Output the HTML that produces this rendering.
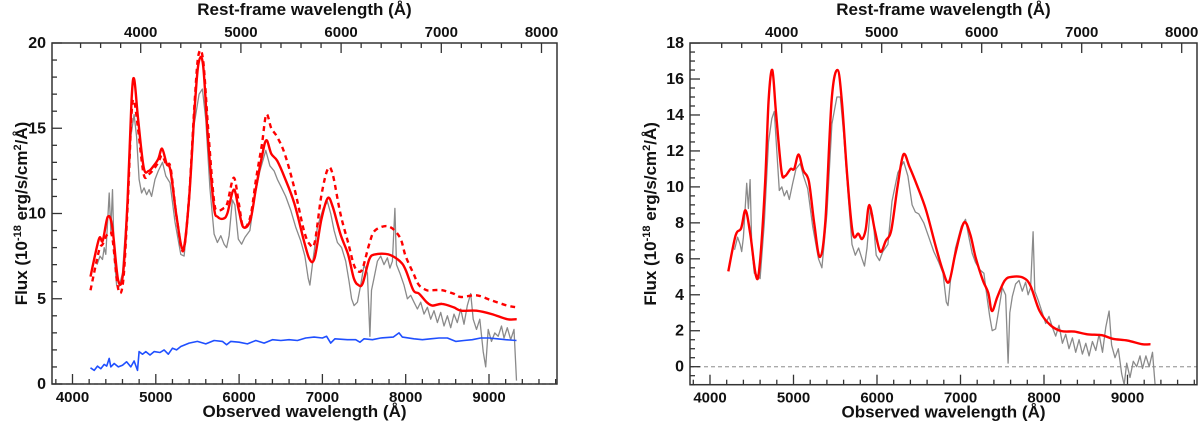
<!DOCTYPE html>
<html><head><meta charset="utf-8"><style>
html,body{margin:0;padding:0;background:#fff;}
svg{display:block;font-family:"Liberation Sans",Arial,sans-serif;font-weight:bold;}
</style></head><body>
<svg id="chart" width="1200" height="424" viewBox="0 0 1200 424" xmlns="http://www.w3.org/2000/svg"></svg>
<script>
// ---------- data (observed wavelength Å, flux 1e-18) ----------
const leftRedWave=[4216,4317,4363,4423,4478,4547,4607,4662,4708,4740,4786,4855,4915,4975,5030,5076,5131,5177,5250,5329,5398,5467,5513,5568,5628,5697,5743,5812,5858,5936,5996,6051,6134,6203,6272,6327,6387,6456,6548,6663,6778,6847,6907,6986,7064,7124,7216,7308,7377,7433,7484,7562,7631,7792,7930,7999,8091,8160,8252,8321,8436,8574,8666,8850,9034,9218,9333];
const leftRedFlux=[6.3,8.5,8.4,9.8,9.2,6.1,6.5,10.8,16.6,17.9,15.6,12.7,12.5,12.8,13.2,13.8,12.9,12.5,9.8,7.9,10.8,16.2,18.8,18.7,14.3,10.4,9.8,9.7,10.0,11.4,10.2,9.2,9.6,11.5,13.3,14.3,13.5,13.1,12.1,10.6,8.4,7.3,7.4,9.6,10.9,10.4,8.8,7.6,6.2,5.8,5.9,7.3,7.6,7.6,7.2,6.7,5.5,5.3,4.8,4.6,4.7,4.5,4.3,4.3,4.1,3.8,3.8];
const leftDashFlux=[5.5,7.8,8.2,8.8,8.6,5.6,6.0,10.4,15.8,16.6,15.0,12.3,12.3,12.6,13.0,13.4,12.8,12.7,9.8,7.8,10.9,16.6,19.3,19.0,15.0,10.8,10.2,10.3,10.6,12.1,10.6,9.2,9.8,12.0,14.0,15.8,15.0,14.5,13.5,11.5,9.0,8.2,8.3,11.0,12.6,12.3,10.0,8.3,7.0,6.6,6.8,8.2,9.0,9.25,8.6,7.5,6.5,5.8,5.5,5.5,5.5,5.3,5.1,5.2,4.9,4.6,4.5];
const leftGrayWave=[4294,4330,4360,4380,4400,4440,4460,4480,4500,4530,4560,4600,4650,4700,4740,4770,4800,4830,4860,4890,4920,4950,4990,5030,5080,5120,5170,5230,5300,5340,5400,5460,5520,5560,5600,5650,5700,5740,5780,5820,5850,5880,5920,5950,5990,6030,6070,6130,6180,6250,6320,6370,6420,6460,6500,6560,6620,6680,6740,6790,6830,6850,6880,6940,7010,7060,7100,7140,7180,7230,7280,7320,7350,7380,7420,7460,7500,7540,7570,7590,7620,7660,7700,7740,7780,7810,7840,7870,7890,7930,7980,8020,8060,8100,8140,8180,8220,8260,8300,8340,8380,8420,8460,8500,8540,8580,8620,8660,8700,8740,8780,8810,8850,8890,8930,8960,8990,9030,9070,9110,9150,9180,9220,9260,9300,9330];
const leftGrayFlux=[7.0,7.5,7.3,8.0,7.6,11.2,9.0,11.4,7.5,5.8,5.7,6.5,10,14.5,15.8,14.5,12,11.2,11.5,11.1,11.4,11.0,12.0,12.5,13.0,12.2,11.8,9.5,7.6,7.5,10.5,15.2,17,17.3,15.5,11.5,8.8,8.3,8.7,8.2,8.0,8.7,10.8,10.5,8.5,8.2,8.6,9.0,10.8,12.5,13.7,12.8,12.5,12.0,11.6,11.0,10.2,9.2,8.4,7.5,6.2,5.8,7.0,9.2,10.3,10.7,10.0,9.0,8.3,8.0,7.2,6.0,5.0,4.6,4.8,5.8,7.0,6.5,2.8,5.5,6.2,7.2,7.5,7.0,7.4,6.8,7.2,10.3,7.0,6.5,5.8,5.0,5.2,4.8,4.4,4.8,4.1,4.5,3.8,4.3,3.6,4.2,3.4,4.0,3.3,4.1,3.6,4.4,3.5,4.6,5.3,3.8,3.2,3.8,1.9,1.0,3.2,2.5,3.0,2.8,3.4,2.7,3.3,2.6,3.2,0.2];
const leftBlueWave=[4216,4260,4300,4340,4380,4410,4440,4460,4500,4550,4600,4650,4700,4740,4780,4800,4840,4880,4930,4980,5050,5100,5150,5200,5250,5300,5400,5500,5600,5700,5800,5850,5900,6000,6100,6200,6300,6400,6500,6600,6700,6800,6900,7000,7050,7100,7150,7300,7400,7450,7500,7600,7700,7850,7920,7960,8100,8200,8300,8400,8500,8600,8700,8800,8900,9000,9100,9200,9330];
const leftBlueFlux=[0.95,0.8,1.05,0.9,1.15,1.05,1.5,1.0,1.2,1.0,1.1,1.3,1.0,1.35,0.8,1.9,1.75,1.9,1.7,1.9,1.85,2.0,1.75,2.1,2.0,2.2,2.4,2.5,2.35,2.55,2.5,2.3,2.5,2.45,2.35,2.55,2.4,2.6,2.55,2.6,2.55,2.7,2.75,2.7,2.8,2.4,2.65,2.6,2.6,2.45,2.65,2.6,2.7,2.75,3.0,2.75,2.65,2.6,2.65,2.7,2.7,2.5,2.55,2.6,2.7,2.7,2.65,2.6,2.55];
const rightRedWave=[4219,4307,4373,4425,4482,4548,4592,4658,4702,4746,4789,4855,4899,4965,5008,5061,5118,5184,5250,5316,5382,5456,5526,5579,5645,5711,5776,5820,5864,5908,5974,6040,6105,6171,6246,6316,6390,6478,6588,6697,6785,6860,6939,7039,7114,7180,7268,7333,7377,7443,7531,7618,7750,7838,7947,8079,8211,8364,8518,8693,8825,9000,9175,9276];
const rightRedFlux=[5.3,7.3,7.7,8.7,7.4,5.1,5.5,10,14.8,16.5,14.2,10.9,10.6,11.0,11.0,11.8,10.9,10.3,7.9,6.1,8.1,14.8,16.5,14.8,10.5,7.4,7.4,7.1,7.6,9.0,7.6,6.4,7.0,7.6,10,11.8,11.1,10.1,8.7,6.8,5.4,4.7,6.3,8.0,7.4,6.1,4.8,4.1,3.1,3.9,4.8,5.0,4.95,4.5,3.1,2.3,1.98,1.95,1.8,1.75,1.55,1.45,1.25,1.25];
const rightGrayWave=leftGrayWave;
const rightGrayFlux=[6.5,7.2,6.8,6.4,7.2,10.2,8.8,10.4,6.6,5.2,5.1,4.9,8,12.5,13.8,14.2,12.0,9.8,10.0,9.5,9.8,9.3,10.2,11.0,11.3,10.6,9.9,7.8,6.0,5.5,8.5,13.5,15.0,15.0,13.0,9.8,6.8,6.2,6.6,6.0,5.6,6.6,8.8,8.4,6.2,5.9,6.4,6.8,9.2,10.8,11.4,10.6,9.0,8.6,8.5,8.0,7.2,6.4,5.8,5.2,3.6,3.4,4.8,6.6,7.8,8.2,7.2,6.3,5.8,5.4,5.2,3.8,2.8,2.0,2.1,3.2,4.4,4.0,0.2,3.0,3.9,4.6,4.8,4.2,4.7,4.0,4.4,7.5,4.2,3.7,3.0,2.4,2.8,2.2,1.7,2.3,1.3,1.8,1.0,1.6,0.8,1.5,0.7,1.3,0.6,1.4,0.9,1.8,0.8,2.2,3.1,1.2,0.5,1.0,-0.4,-1.0,0.2,-0.6,0.3,0.0,0.6,-0.1,0.6,0.0,0.8,-1.0];
const obsTicks=[4000,5000,6000,7000,8000,9000];
const restTicks=[4000,5000,6000,7000,8000];
const leftYTicks=[0,5,10,15,20];
const rightYTicks=[0,2,4,6,8,10,12,14,16,18];

const svg=document.getElementById('chart');
const NS='http://www.w3.org/2000/svg';
function mk(tag,attrs,parent){const e=document.createElementNS(NS,tag);for(const k in attrs)e.setAttribute(k,attrs[k]);(parent||svg).appendChild(e);return e;}

function panel(p){
  const g=mk('g',{});
  
  
  const X=w=>p.x0+(w-p.w0)*p.sx;
  const XT=r=>p.rx0+(r-4000)*p.rsx;
  const Y=f=>p.y0-(f-p.f0)*p.sy;
  const ax='#333';
  if(p.zero){const z=mk('line',{x1:p.L,x2:p.R,y1:Y(0),y2:Y(0),stroke:'#aaa','stroke-width':1.3,'stroke-dasharray':'4,3'},g);
    }
  function line(wave,flux,color,width,dash,name,smooth){
    const pts=wave.map((w,i)=>[X(w),Y(flux[i])]);
    let d='M'+pts[0][0].toFixed(1)+','+pts[0][1].toFixed(1);
    for(let i=0;i<pts.length-1;i++){
      if(!smooth){d+='L'+pts[i+1][0].toFixed(1)+','+pts[i+1][1].toFixed(1);continue;}
      const p0=pts[Math.max(0,i-1)],p1=pts[i],p2=pts[i+1],p3=pts[Math.min(pts.length-1,i+2)];
      const c1=[p1[0]+(p2[0]-p0[0])/6,p1[1]+(p2[1]-p0[1])/6],c2=[p2[0]-(p3[0]-p1[0])/6,p2[1]-(p3[1]-p1[1])/6];
      d+='C'+c1[0].toFixed(1)+','+c1[1].toFixed(1)+' '+c2[0].toFixed(1)+','+c2[1].toFixed(1)+' '+p2[0].toFixed(1)+','+p2[1].toFixed(1);
    }
    const e=mk('path',{d:d,fill:'none',stroke:color,'stroke-width':width,'stroke-linejoin':'round'},g);
    if(dash)e.setAttribute('stroke-dasharray',dash);
    
    
  }
  p.series.forEach(s=>line(s[0],s[1],s[2],s[3],s[4],s[5],s[6]));
  const fr=mk('rect',{x:p.L,y:p.T,width:p.R-p.L,height:p.B-p.T,fill:'none',stroke:ax,'stroke-width':1.5},g);
  
  for(let w=3800;w<=9800;w+=200){const x=X(w);if(x<p.L||x>p.R)continue;const maj=w%1000===0;
    mk('line',{x1:x,x2:x,y1:p.B,y2:p.B-(maj?10:5),stroke:ax,'stroke-width':1.3},g);}
  obsTicks.forEach(w=>{const t=mk('text',{x:X(w),y:p.B+18,'text-anchor':'middle','font-size':15,fill:'#111'},g);t.textContent=w;
    });
  for(let r=3400;r<=8200;r+=200){const x=XT(r);if(x<p.L||x>p.R)continue;const maj=r%1000===0;
    mk('line',{x1:x,x2:x,y1:p.T,y2:p.T+(maj?10:5),stroke:ax,'stroke-width':1.3},g);}
  restTicks.forEach(r=>{const t=mk('text',{x:XT(r),y:p.T-6,'text-anchor':'middle','font-size':15,fill:'#111'},g);t.textContent=r;
    });
  for(let f=p.fmin;f<=p.fmax+1e-6;f+=p.minor){const y=Y(f);const maj=Math.abs(f/p.major-Math.round(f/p.major))<1e-6;
    mk('line',{x1:p.L,x2:p.L+(maj?10:5),y1:y,y2:y,stroke:ax,'stroke-width':1.3},g);}
  p.yt.forEach(f=>{const t=mk('text',{x:p.L-6,y:Y(f)+5,'text-anchor':'end','font-size':16,fill:'#111'},g);t.textContent=f;
    });
  const bt=mk('text',{x:(p.L+p.R)/2,y:p.B+33,'text-anchor':'middle','font-size':17,fill:'#111'},g);bt.textContent='Observed wavelength (Å)';
  
  const tt=mk('text',{x:(p.L+p.R)/2,y:15,'text-anchor':'middle','font-size':17,fill:'#111'},g);tt.textContent='Rest-frame wavelength (Å)';
  
  const yc=(p.T+p.B)/2;
  const yt=mk('text',{x:p.ytx,y:yc,'text-anchor':'middle','font-size':17,fill:'#111',transform:'rotate(-90 '+p.ytx+' '+yc+')'},g);
  yt.innerHTML='Flux (10<tspan dy="-6" font-size="11">-18</tspan><tspan dy="6"> erg/s/cm</tspan><tspan dy="-6" font-size="11">2</tspan><tspan dy="6">/Å)</tspan>';
  
}

panel({name:'left-panel',L:52,R:557,T:43,B:384,x0:72.5,w0:4000,sx:0.0833,rx0:140.7,rsx:0.1002,y0:384,f0:0,sy:17.05,
  fmin:0,fmax:20,minor:1,major:5,yt:leftYTicks,ytx:27,zero:true,
  series:[[leftGrayWave,leftGrayFlux,'#8a8a8a',1.3,null,'observed-spectrum',false],
          [leftBlueWave,leftBlueFlux,'#1f4fff',1.6,null,'host-spectrum',false],
          [leftRedWave,leftDashFlux,'#ff0000',2.4,'5,4','model-dashed',true],
          [leftRedWave,leftRedFlux,'#ff0000',2.4,null,'model-solid',true]]});
panel({name:'right-panel',L:690,R:1197,T:43,B:384.7,x0:710,w0:4000,sx:0.0835,rx0:781.7,rsx:0.1,y0:366.7,f0:0,sy:17.98,
  fmin:-1,fmax:18,minor:0.5,major:2,yt:rightYTicks,ytx:656,zero:true,
  series:[[rightGrayWave,rightGrayFlux,'#8a8a8a',1.3,null,'observed-spectrum',false],
          [rightRedWave,rightRedFlux,'#ff0000',2.4,null,'model-solid',true]]});
</script>
</body></html>
